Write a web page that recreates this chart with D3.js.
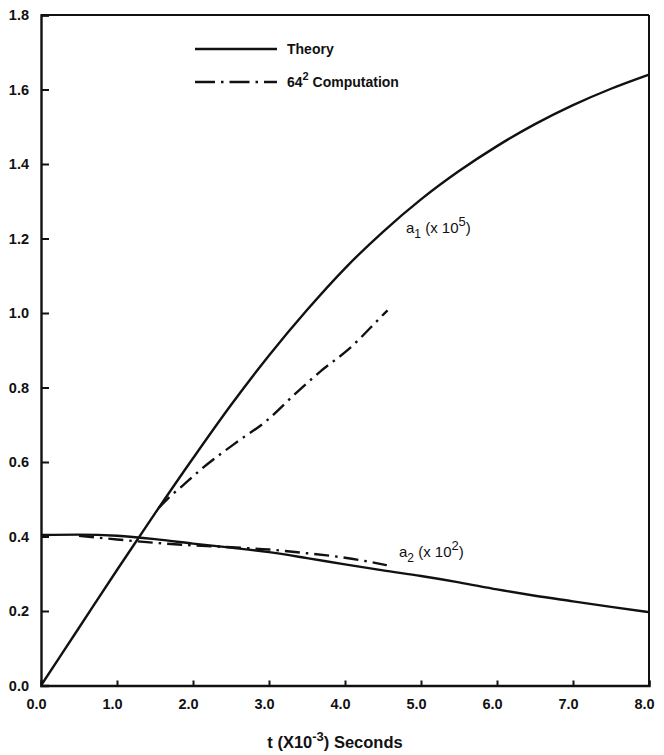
<!DOCTYPE html>
<html>
<head>
<meta charset="utf-8">
<script src="https://cdn.jsdelivr.net/npm/d3@7"></script>
<style>
  html, body { margin: 0; padding: 0; background: #fff; }
  svg text { font-family: "Liberation Sans", Arial, Helvetica, sans-serif; fill: #111; }
</style>
</head>
<body>
<svg id="chart" width="664" height="755"></svg>
<script>
// ---- data ----
const xTicks = [0, 1, 2, 3, 4, 5, 6, 7, 8];
const xTickLabels = ["0.0", "1.0", "2.0", "3.0", "4.0", "5.0", "6.0", "7.0", "8.0"];
const yTicks = [0, 0.2, 0.4, 0.6, 0.8, 1.0, 1.2, 1.4, 1.6, 1.8];
const yTickLabels = ["0.0", "0.2", "0.4", "0.6", "0.8", "1.0", "1.2", "1.4", "1.6", "1.8"];

const a1TheoryT = [0, 0.5, 1.0, 1.5, 2.0, 2.5, 3.0, 3.5, 4.0, 4.5, 5.0, 5.5, 6.0, 6.5, 7.0, 7.5, 8.0];
const a1TheoryV = [0, 0.155, 0.31, 0.462, 0.61, 0.753, 0.886, 1.008, 1.12, 1.218, 1.305, 1.381, 1.448, 1.507, 1.558, 1.602, 1.64];

const a1CompT = [1.55, 1.7, 1.85, 2.11, 2.615, 2.94, 3.34, 3.67, 4.06, 4.52, 4.56];
const a1CompV = [0.477, 0.508, 0.534, 0.581, 0.659, 0.706, 0.782, 0.842, 0.905, 0.999, 1.007];

const a2TheoryT = [0, 0.5, 1.0, 1.5, 2.0, 2.5, 3.0, 3.5, 4.0, 4.5, 5.0, 5.5, 6.0, 6.5, 7.0, 7.5, 8.0];
const a2TheoryV = [0.404, 0.405, 0.402, 0.393, 0.381, 0.37, 0.358, 0.342, 0.325, 0.309, 0.294, 0.277, 0.258, 0.241, 0.226, 0.211, 0.197];

const a2CompT = [0.5, 1.0, 1.5, 2.0, 2.5, 3.0, 3.5, 4.0, 4.3, 4.55];
const a2CompV = [0.402, 0.392, 0.383, 0.376, 0.371, 0.365, 0.355, 0.343, 0.333, 0.323];

const legendLabels = ["Theory", "64", "2", " Computation"];
const xTitle = ["t (X10", "-3", ") Seconds"];

// ---- layout ----
const svg = d3.select("#chart");
const mLeft = 41, mRight = 649, mTop = 15, mBottom = 685.5;
const x = d3.scaleLinear().domain([0, 8]).range([mLeft, mRight]);
const y = d3.scaleLinear().domain([0, 1.8]).range([mBottom, mTop]);
const dashDot = "15,6,2.5,6";
const ink = "#111";

// frame (top and right)
svg.append("line").attr("x1", x(0)).attr("x2", x(8)).attr("y1", y(1.8)).attr("y2", y(1.8))
  .attr("stroke", ink).attr("stroke-width", 2);
svg.append("line").attr("x1", x(8)).attr("x2", x(8)).attr("y1", y(1.8)).attr("y2", y(0))
  .attr("stroke", ink).attr("stroke-width", 2);

// axes
const xAxis = d3.axisBottom(x).tickValues(xTicks).tickSize(-5).tickPadding(13)
  .tickFormat((d, i) => xTickLabels[i]);
const gx = svg.append("g").attr("transform", `translate(0,${mBottom})`).call(xAxis);
gx.select(".domain").attr("stroke", ink).attr("stroke-width", 2.4);
gx.selectAll(".tick line").attr("stroke", ink).attr("stroke-width", 2);
gx.selectAll(".tick text").attr("font-size", 14.5).attr("font-weight", "bold")
  .attr("font-family", "'Liberation Sans', Arial, sans-serif").attr("fill", ink)
  .attr("dx", -5);

const yAxis = d3.axisLeft(y).tickValues(yTicks).tickSize(-8).tickPadding(12)
  .tickFormat((d, i) => yTickLabels[i]);
const gy = svg.append("g").attr("transform", `translate(${mLeft},0)`).call(yAxis);
gy.select(".domain").attr("stroke", ink).attr("stroke-width", 2.4);
gy.selectAll(".tick line").attr("stroke", ink).attr("stroke-width", 2);
gy.selectAll(".tick text").attr("font-size", 14.5).attr("font-weight", "bold")
  .attr("font-family", "'Liberation Sans', Arial, sans-serif").attr("fill", ink);

// curves
const line = d3.line().x(d => x(d[0])).y(d => y(d[1])).curve(d3.curveMonotoneX);
function zip(a, b) { return a.map((v, i) => [v, b[i]]); }

svg.append("path").datum(zip(a1TheoryT, a1TheoryV)).attr("d", line)
  .attr("fill", "none").attr("stroke", ink).attr("stroke-width", 2.4);
svg.append("path").datum(zip(a2TheoryT, a2TheoryV)).attr("d", line)
  .attr("fill", "none").attr("stroke", ink).attr("stroke-width", 2.4);
svg.append("path").datum(zip(a1CompT, a1CompV)).attr("d", line)
  .attr("fill", "none").attr("stroke", ink).attr("stroke-width", 2.4).attr("stroke-dasharray", dashDot);
svg.append("path").datum(zip(a2CompT, a2CompV)).attr("d", line)
  .attr("fill", "none").attr("stroke", ink).attr("stroke-width", 2.4).attr("stroke-dasharray", dashDot);

// curve labels
function curveLabel(px, py, sub, sup) {
  const t = svg.append("text").attr("x", px).attr("y", py).attr("font-size", 15);
  t.append("tspan").text("a");
  t.append("tspan").attr("font-size", 12).attr("dy", 5).text(sub);
  t.append("tspan").attr("dy", -5).text(" (x 10");
  t.append("tspan").attr("font-size", 13).attr("dy", -7).text(sup);
  t.append("tspan").attr("dy", 7).text(")");
}
curveLabel(406, 233, "1", "5");
curveLabel(399, 557, "2", "2");

// legend
const lg = svg.append("g");
lg.append("line").attr("x1", 195).attr("x2", 277).attr("y1", 49).attr("y2", 49)
  .attr("stroke", ink).attr("stroke-width", 2.4);
lg.append("text").attr("x", 287).attr("y", 54).attr("font-size", 14).attr("font-weight", "bold")
  .text(legendLabels[0]);
lg.append("line").attr("x1", 195).attr("x2", 277).attr("y1", 82).attr("y2", 82)
  .attr("stroke", ink).attr("stroke-width", 2.4).attr("stroke-dasharray", "20,6,2.5,6");
const lt = lg.append("text").attr("x", 287).attr("y", 87).attr("font-size", 14).attr("font-weight", "bold");
lt.append("tspan").text(legendLabels[1]);
lt.append("tspan").attr("font-size", 11).attr("dy", -7).text(legendLabels[2]);
lt.append("tspan").attr("dy", 7).text(legendLabels[3]);

// x title
const xt = svg.append("text").attr("x", 335).attr("y", 748).attr("text-anchor", "middle")
  .attr("font-size", 16.5).attr("font-weight", "bold");
xt.append("tspan").text(xTitle[0]);
xt.append("tspan").attr("font-size", 13).attr("dy", -7).text(xTitle[1]);
xt.append("tspan").attr("dy", 7).text(xTitle[2]);
</script>
</body>
</html>
